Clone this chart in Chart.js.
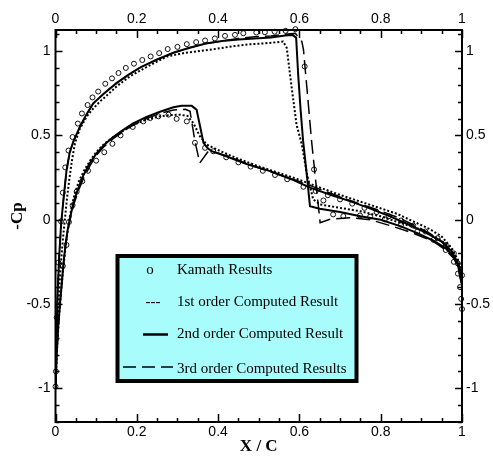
<!DOCTYPE html>
<html>
<head>
<meta charset="utf-8">
<script src="https://cdn.jsdelivr.net/npm/chart.js@4"></script>
<style>
  html, body { margin: 0; padding: 0; background: #fff; }
  #wrap { position: relative; width: 493px; height: 459px; }
</style>
</head>
<body>
<div id="wrap"><canvas id="ch-cp"></canvas></div>
<script>
// ── Pressure coefficient data (-Cp vs x/c) ───────────────────────────────────
// Upper surface
const KAM_UP_X = [0, .001, .003, .007, .0135, .018, .024, .032, .042, .055, .065, .079, .091, .105, .1225, .139, .155, .173, .193, .2135, .234, .255, .276, .30, .323, .346, .368, .392, .417, .4415, .462, .494, .515, .539, .566, .59, .613, .636, .659, .683, .708, .749, .774, .81, .85, .89, .93, .96, .98, .99, .995, .998, 1];
const KAM_UP_CP = [-0.99, -0.9, -0.58, -0.254, -0.01, .16, .31, .41, .49, .57, .63, .68, .725, .76, .806, .838, .87, .9, .925, .947, .968, .988, 1.012, 1.025, 1.041, 1.053, 1.063, 1.075, 1.09, 1.096, 1.106, 1.11, 1.112, 1.115, 1.12, 1.13, .909, .298, .114, .031, .021, .025, .018, .002, -0.03, -0.07, -0.12, -0.18, -0.25, -0.32, -0.40, -0.47, -0.53];

const O1_UP_X = [0, .003, .007, .012, .018, .023, .028, .034, .041, .048, .06, .077, .093, .109, .13, .15, .183, .22, .274, .32, .355, .4, .44, .478, .51, .535, .56, .569, .577, .585, .593, .606, .618, .634, .651, .7, .75, .8, .85, .9, .94, .97, .99, 1];
const O1_UP_CP = [-1, -0.75, -0.5, -0.3, -0.12, .0, .12, .24, .36, .455, .54, .613, .66, .70, .745, .79, .85, .9, .968, .99, 1.0, 1.015, 1.03, 1.04, 1.045, 1.05, 1.057, 1.018, .86, .71, .564, .445, .278, .12, .09, .07, .05, .02, -0.02, -0.06, -0.11, -0.16, -0.24, -0.33];

const O2_UP_X = [0, .002, .005, .009, .014, .02, .027, .035, .045, .06, .075, .093, .12, .15, .18, .21, .25, .29, .33, .37, .41, .45, .49, .53, .565, .583, .592, .597, .603, .609, .618, .626, .65, .7, .75, .8, .85, .89, .93, .96, .98, .99, 1];
const O2_UP_CP = [-1, -0.72, -0.45, -0.22, -0.02, .13, .29, .40, .47, .55, .62, .69, .75, .81, .86, .905, .95, .99, 1.02, 1.045, 1.06, 1.068, 1.075, 1.08, 1.092, 1.096, 1.08, .86, .65, .47, .27, .08, .065, .045, .02, .0, -0.04, -0.08, -0.125, -0.17, -0.22, -0.27, -0.38];

const O3_UP_X = [0, .002, .005, .009, .014, .02, .027, .035, .045, .06, .075, .093, .12, .15, .18, .21, .25, .29, .33, .37, .41, .45, .49, .53, .565, .59, .606, .61, .62, .63, .638, .651, .675, .724, .774, .83, .88, .93, .96, .98, .99, 1];
const O3_UP_CP = [-1, -0.72, -0.45, -0.22, -0.02, .13, .29, .40, .47, .55, .62, .69, .75, .81, .86, .905, .95, .99, 1.02, 1.045, 1.06, 1.075, 1.085, 1.09, 1.1, 1.106, 1.057, 1.008, .74, .465, .278, -0.018, .002, .012, .0, -0.04, -0.08, -0.13, -0.18, -0.23, -0.28, -0.4];

// Lower surface
const KAM_LO_X = [.018, .027, .033, .042, .052, .066, .08, .1, .12, .14, .16, .19, .216, .233, .253, .278, .298, .323, .343, .368, .388, .42, .45, .48, .51, .54, .57, .61, .64, .67, .70, .73, .76, .79, .82, .85, .88, .91, .94, .96, .98, .99, 1];
const KAM_LO_CP = [-0.275, -0.15, -0.014, .085, .166, .228, .29, .35, .40, .45, .5, .55, .583, .603, .613, .623, .598, .583, .456, .426, .406, .37, .34, .315, .29, .265, .24, .195, .17, .145, .12, .095, .07, .045, .02, -0.005, -0.035, -0.07, -0.11, -0.15, -0.2, -0.26, -0.33];

const O1_LO_X = [0, .003, .008, .013, .018, .023, .028, .034, .04, .048, .058, .07, .085, .1, .12, .142, .165, .19, .22, .25, .28, .306, .325, .34, .355, .372, .397, .44, .49, .54, .59, .64, .69, .74, .79, .84, .88, .92, .95, .975, .99, 1];
const O1_LO_CP = [-1, -0.8, -0.6, -0.45, -0.32, -0.2, -0.1, .0, .08, .16, .23, .29, .35, .4, .45, .49, .525, .56, .59, .61, .62, .623, .615, .57, .495, .446, .416, .37, .325, .285, .245, .2, .155, .115, .075, .035, -0.01, -0.055, -0.1, -0.17, -0.24, -0.3];

const O2_LO_X = [0, .003, .007, .011, .016, .02, .025, .03, .035, .044, .055, .068, .083, .1, .12, .142, .165, .19, .224, .257, .29, .31, .335, .347, .356, .364, .374, .384, .42, .47, .528, .58, .626, .68, .724, .77, .823, .87, .91, .95, .975, .99, 1];
const O2_LO_CP = [-1, -0.8, -0.62, -0.5, -0.36, -0.25, -0.14, -0.06, .0, .1, .18, .26, .33, .39, .445, .49, .53, .57, .61, .64, .667, .675, .675, .653, .55, .456, .425, .406, .376, .33, .288, .24, .19, .145, .11, .07, .02, -0.03, -0.075, -0.13, -0.19, -0.26, -0.33];

const O3_LO_X = [0, .003, .007, .011, .016, .02, .025, .03, .036, .045, .056, .07, .085, .1, .12, .142, .165, .19, .224, .257, .29, .32, .331, .343, .355, .376, .40, .44, .49, .54, .59, .64, .69, .74, .79, .84, .88, .92, .95, .975, .99, 1];
const O3_LO_CP = [-1, -0.8, -0.62, -0.5, -0.36, -0.25, -0.15, -0.07, .0, .09, .17, .25, .32, .38, .435, .48, .52, .56, .6, .63, .65, .655, .643, .465, .337, .406, .395, .36, .315, .275, .235, .19, .145, .1, .06, .015, -0.03, -0.08, -0.13, -0.19, -0.26, -0.33];

// Axes
const X_TICKS = [0, 0.2, 0.4, 0.6, 0.8, 1];
const Y_TICKS = [-1, -0.5, 0, 0.5, 1];
const X_RANGE = [0, 1];
const Y_RANGE = [-1.2, 1.125];
const X_MINOR = 0.05;
const Y_MINOR = 0.1;

const LEGEND_LABELS = ['Kamath Results', '1st order Computed Result', '2nd order Computed Result', '3rd order Computed Results'];

const zip = (xs, ys) => xs.map((x, i) => ({ x, y: ys[i] }));

const lineDs = (xs, ys, dash, w) => ({
  data: zip(xs, ys), showLine: true, pointRadius: 0, borderColor: '#000',
  borderWidth: w, borderDash: dash, fill: false, tension: 0,
});
const kamDs = (xs, ys) => ({
  data: zip(xs, ys), showLine: false, pointRadius: 2.5, pointStyle: 'circle',
  borderColor: '#111', backgroundColor: 'rgba(0,0,0,0)', borderWidth: 1, clip: 6,
});

// ── Frame, inward ticks, titles and legend box ──────────────────────────────
const framePlugin = {
  id: 'frame',
  afterDatasetsDraw(chart) {
    const { ctx, chartArea: a, scales } = chart;
    const xs = scales.x, ys = scales.y;
    ctx.save();
    ctx.strokeStyle = '#000';
    ctx.lineWidth = 1.5;
    ctx.beginPath();
    // x ticks (bottom and top)
    for (let v = X_RANGE[0]; v <= X_RANGE[1] + 1e-9; v += X_MINOR) {
      const major = X_TICKS.some(t => Math.abs(t - v) < 1e-6);
      const len = major ? 8 : 4;
      const px = Math.round(xs.getPixelForValue(v)) + 0.5;
      ctx.moveTo(px, a.bottom); ctx.lineTo(px, a.bottom - len);
      ctx.moveTo(px, a.top); ctx.lineTo(px, a.top + len);
    }
    // y ticks (left and right)
    for (let v = -1.2; v <= Y_RANGE[1] + 1e-9; v += Y_MINOR) {
      const major = Y_TICKS.some(t => Math.abs(t - v) < 1e-6);
      const len = major ? 7 : 4;
      const py = Math.round(ys.getPixelForValue(v)) + 0.5;
      ctx.moveTo(a.left, py); ctx.lineTo(a.left + len, py);
      ctx.moveTo(a.right, py); ctx.lineTo(a.right - len, py);
    }
    ctx.stroke();
    ctx.lineWidth = 2;
    ctx.strokeRect(a.left, a.top, a.right - a.left, a.bottom - a.top);

    // axis titles
    ctx.fillStyle = '#000';
    ctx.font = "bold 17px 'Liberation Serif'";
    ctx.textAlign = 'center';
    ctx.textBaseline = 'middle';
    ctx.fillText('X / C', (a.left + a.right) / 2, 447);
    ctx.translate(18, 216);
    ctx.rotate(-Math.PI / 2);
    ctx.fillText('-Cp', 0, 0);
    ctx.restore();

    // legend
    ctx.save();
    ctx.fillStyle = '#a9fcfc';
    ctx.fillRect(117.5, 256, 239, 125);
    ctx.lineWidth = 4;
    ctx.strokeStyle = '#000';
    ctx.strokeRect(117.5, 256, 239, 125);
    ctx.fillStyle = '#000';
    ctx.font = "15px 'Liberation Serif'";
    ctx.textBaseline = 'alphabetic';
    const rows = [274, 306, 338, 373];
    ctx.textAlign = 'center';
    ctx.fillText('o', 150, rows[0]);
    ctx.fillText('---', 153, rows[1]);
    ctx.lineWidth = 2.5;
    ctx.beginPath(); ctx.moveTo(143, 334.5); ctx.lineTo(168, 334.5); ctx.stroke();
    ctx.lineWidth = 1.5;
    ctx.setLineDash([13, 6]);
    ctx.beginPath(); ctx.moveTo(123, 367); ctx.lineTo(173, 367); ctx.stroke();
    ctx.setLineDash([]);
    ctx.textAlign = 'left';
    LEGEND_LABELS.forEach((t, i) => ctx.fillText(t, 177, rows[i]));
    ctx.restore();
  },
};

const tickFont = { family: "'Liberation Sans', Arial", size: 14 };
const fmt = v => String(Math.round(v * 10) / 10);

const xAxis = (pos, h) => ({
  type: 'linear', position: pos, min: X_RANGE[0], max: X_RANGE[1],
  grid: { display: false, drawTicks: false }, border: { display: false },
  afterBuildTicks: s => { s.ticks = X_TICKS.map(value => ({ value })); },
  afterFit: s => { s.height = h; },
  ticks: { color: '#000', font: tickFont, padding: 2, maxRotation: 0, callback: fmt },
});
const yAxis = (pos, w, pad) => ({
  type: 'linear', position: pos, min: Y_RANGE[0], max: Y_RANGE[1],
  grid: { display: false, drawTicks: false }, border: { display: false },
  afterBuildTicks: s => { s.ticks = Y_TICKS.map(value => ({ value })); },
  afterFit: s => { s.width = w; },
  ticks: { color: '#000', font: tickFont, padding: pad, callback: fmt },
});

new Chart(document.getElementById('ch-cp'), {
  type: 'scatter',
  data: {
    datasets: [
      lineDs(O1_UP_X, O1_UP_CP, [2, 2], 2),
      lineDs(O1_LO_X, O1_LO_CP, [2, 2], 2),
      lineDs(O2_UP_X, O2_UP_CP, [], 2),
      lineDs(O2_LO_X, O2_LO_CP, [], 2),
      lineDs(O3_UP_X, O3_UP_CP, [14, 6], 1.5),
      lineDs(O3_LO_X, O3_LO_CP, [14, 6], 1.5),
      kamDs(KAM_UP_X, KAM_UP_CP),
      kamDs(KAM_LO_X, KAM_LO_CP),
    ],
  },
  options: {
    responsive: true,
    maintainAspectRatio: false,
    animation: false,
    layout: { padding: 0 },
    plugins: { legend: { display: false }, tooltip: { enabled: false } },
    scales: {
      x: xAxis('bottom', 37),
      x2: xAxis('top', 30),
      y: yAxis('left', 55.5, 5),
      y2: yAxis('right', 31, 4),
    },
  },
  plugins: [framePlugin],
});
</script>
</body>
</html>
